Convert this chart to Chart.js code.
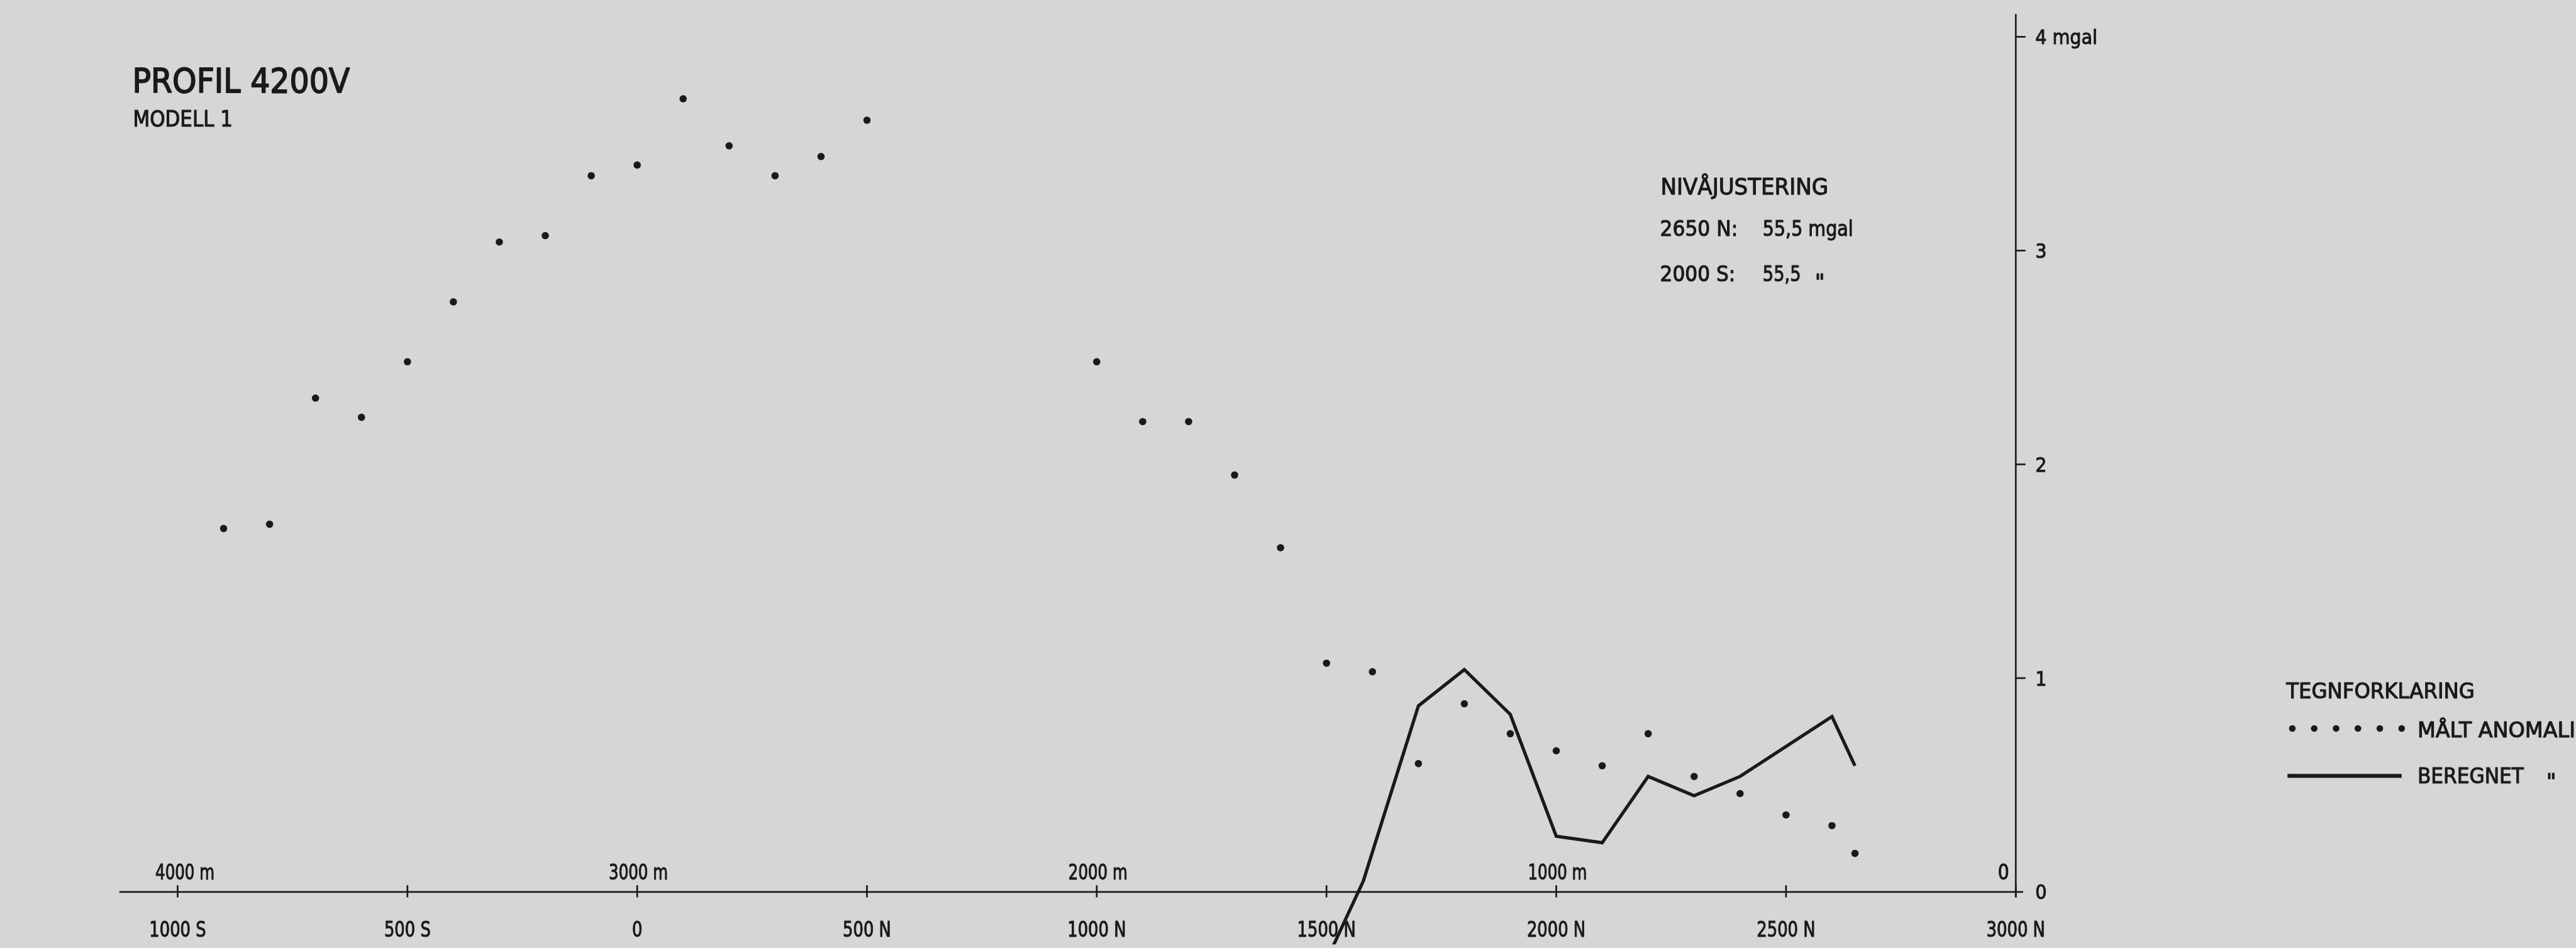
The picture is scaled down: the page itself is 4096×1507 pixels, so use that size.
<!DOCTYPE html>
<html><head><meta charset="utf-8">
<script src="https://cdn.jsdelivr.net/npm/chart.js@4.4.1/dist/chart.umd.min.js"></script>
<style>
html,body{margin:0;padding:0;background:#d6d6d6;overflow:hidden}
#wrap{position:relative;width:4096px;height:1507px}
</style></head><body>
<div id="wrap"><canvas id="c"></canvas></div>
<script>
// ---------------- data ----------------
const measuredStations = [-900,-800,-700,-600,-500,-400,-300,-200,-100,0,100,200,300,400,500,
  1000,1100,1200,1300,1400,1500,1600,1700,1800,1900,2000,2100,2200,2300,2400,2500,2600,2650];
const measuredAnomaly = [1.70,1.72,2.31,2.22,2.48,2.76,3.04,3.07,3.35,3.40,3.71,3.49,3.35,3.44,3.61,
  2.48,2.20,2.20,1.95,1.61,1.07,1.03,0.60,0.88,0.74,0.66,0.59,0.74,0.54,0.46,0.36,0.31,0.18];
const calcStations = [1500,1580,1700,1800,1900,2000,2100,2200,2300,2400,2600,2650];
const calcAnomaly  = [-0.32,0.05,0.87,1.04,0.83,0.26,0.23,0.54,0.45,0.54,0.82,0.59];
const xTickValues = [-1000,-500,0,500,1000,1500,2000,2500,3000];
const xTickLabels = ['1000 S','500 S','0','500 N','1000 N','1500 N','2000 N','2500 N','3000 N'];
const distTickValues = [-1000,0,1000,2000,3000];
const distTickLabels = ['4000 m','3000 m','2000 m','1000 m','0'];
const yTickValues = [0,1,2,3,4];
const yTickLabels = ['0','1','2','3','4 mgal'];
const titleText = 'PROFIL 4200V';
const subtitleText = 'MODELL 1';
const noteLines = ['NIVÅJUSTERING', '2650 N:', '55,5 mgal', '2000 S:', '55,5', '"'];
const legendTitle = 'TEGNFORKLARING';
const legendMeasured = 'MÅLT ANOMALI';
const legendCalc = 'BEREGNET';

// ---------------- layout ----------------
const S = 4096 / 4241;           // drawing scale relative to reference
const REF_W = 4241, REF_H = 1560;
const X0 = 1046, KX = 0.7587;    // reference px of station 0, px per metre
const Y0 = 1473, KY = 354.5;     // reference px of 0 mgal, px per mgal
const INK = '#1a1a1a';
const BG = '#d6d6d6';
const FONT = '"DejaVu Sans", sans-serif';
const r = v => v * S;

function text(ctx, str, x, y, capRef, align, cond, maxRef) {
  const size = capRef / 0.729 * S;
  ctx.font = size.toFixed(2) + 'px ' + FONT;
  ctx.textAlign = align || 'left';
  ctx.textBaseline = 'alphabetic';
  const w = ctx.measureText(str).width;
  let mw = w * (cond || 1);
  if (maxRef) mw = Math.min(w, maxRef * S);
  ctx.fillText(str, x, y, mw);
  const lw = ctx.lineWidth;
  ctx.lineWidth = size * 0.035;
  ctx.strokeText(str, x, y, mw);
  ctx.lineWidth = lw;
}
function seg(ctx, x1, y1, x2, y2) {
  ctx.beginPath(); ctx.moveTo(x1, y1); ctx.lineTo(x2, y2); ctx.stroke();
}

const decor = {
  id: 'decor',
  beforeDraw(chart) {
    const ctx = chart.ctx;
    ctx.save();
    ctx.fillStyle = BG;
    ctx.fillRect(0, 0, chart.width, chart.height);
    ctx.restore();
  },
  beforeDatasetsDraw(chart) {
    const ctx = chart.ctx, xs = chart.scales.x, ys = chart.scales.y;
    const px = v => xs.getPixelForValue(v), py = v => ys.getPixelForValue(v);
    ctx.save();
    ctx.strokeStyle = INK; ctx.fillStyle = INK; ctx.lineCap = 'butt'; ctx.lineJoin = 'round';

    // x axis (at 0 mgal)
    const ay = py(0);
    ctx.lineWidth = r(2.8);
    seg(ctx, px(-1127), ay, px(3016), ay);
    xTickValues.forEach(v => seg(ctx, px(v), ay - r(11), px(v), ay + r(9)));
    xTickLabels.forEach((t, i) => text(ctx, t, px(xTickValues[i]), ay + r(74), 25, 'center', 0.78));
    distTickLabels.forEach((t, i) => {
      const v = distTickValues[i];
      if (i === distTickLabels.length - 1) text(ctx, t, px(v) - r(11), ay - r(20), 25, 'right', 0.85);
      else text(ctx, t, px(v) + r(i === 0 ? 12 : 2), ay - r(21), 25, 'center', 0.74);
    });

    // y axis (at station 3000)
    const ax = px(3000);
    ctx.lineWidth = r(2.8);
    seg(ctx, ax, py(4.107), ax, py(-0.026));
    yTickValues.forEach((v, i) => {
      if (v !== 0) seg(ctx, ax, py(v), ax + r(16), py(v));
      text(ctx, yTickLabels[i], ax + r(32), py(v) + r(12), 24, 'left', 0.9);
    });

    // title block
    text(ctx, titleText, r(218), r(152), 40, 'left', 1, 358);
    text(ctx, subtitleText, r(219), r(208), 26.7, 'left', 1, 164);

    // level adjustment note
    text(ctx, noteLines[0], r(2734), r(320), 27, 'left', 1, 276);
    text(ctx, noteLines[1], r(2733), r(388), 26, 'left', 1, 128);
    text(ctx, noteLines[2], r(2902), r(388), 26, 'left', 1, 149);
    text(ctx, noteLines[3], r(2733), r(463), 26, 'left', 1, 124);
    text(ctx, noteLines[4], r(2902), r(463), 26, 'left', 1, 63);
    text(ctx, noteLines[5], r(2988), r(476), 26, 'left', 1);

    // legend
    text(ctx, legendTitle, r(3764), r(1149), 26, 'left', 1, 310);
    for (let i = 0; i < 6; i++) {
      ctx.beginPath(); ctx.arc(r(3774 + i * 36), r(1199), r(5.5), 0, Math.PI * 2); ctx.fill();
    }
    text(ctx, legendMeasured, r(3980), r(1213), 26, 'left', 1, 260);
    ctx.lineWidth = r(6.5);
    seg(ctx, r(3766), r(1277), r(3954), r(1277));
    text(ctx, legendCalc, r(3980), r(1289), 26, 'left', 1, 175);
    text(ctx, '"', r(4192), r(1298), 26, 'left', 1);
    ctx.restore();
  }
};

new Chart(document.getElementById('c'), {
  type: 'scatter',
  data: {
    datasets: [
      {
        label: legendMeasured,
        data: measuredStations.map((x, i) => ({ x, y: measuredAnomaly[i] })),
        showLine: false,
        pointRadius: 6 * S,
        pointBackgroundColor: INK,
        pointBorderColor: INK,
        pointBorderWidth: 0,
        pointStyle: 'circle'
      },
      {
        label: legendCalc,
        data: calcStations.map((x, i) => ({ x, y: calcAnomaly[i] })),
        showLine: true,
        borderColor: INK,
        borderWidth: 5.4 * S,
        borderJoinStyle: 'miter',
        pointRadius: 0,
        tension: 0,
        fill: false
      }
    ]
  },
  options: {
    responsive: true,
    maintainAspectRatio: false,
    animation: false,
    devicePixelRatio: 1,
    events: [],
    layout: { padding: 0 },
    plugins: { legend: { display: false }, tooltip: { enabled: false }, title: { display: false } },
    scales: {
      x: { type: 'linear', display: false, min: -X0 / KX, max: (REF_W - X0) / KX },
      y: { type: 'linear', display: false, min: -(REF_H - Y0) / KY, max: Y0 / KY }
    }
  },
  plugins: [decor]
});
</script>
</body></html>
